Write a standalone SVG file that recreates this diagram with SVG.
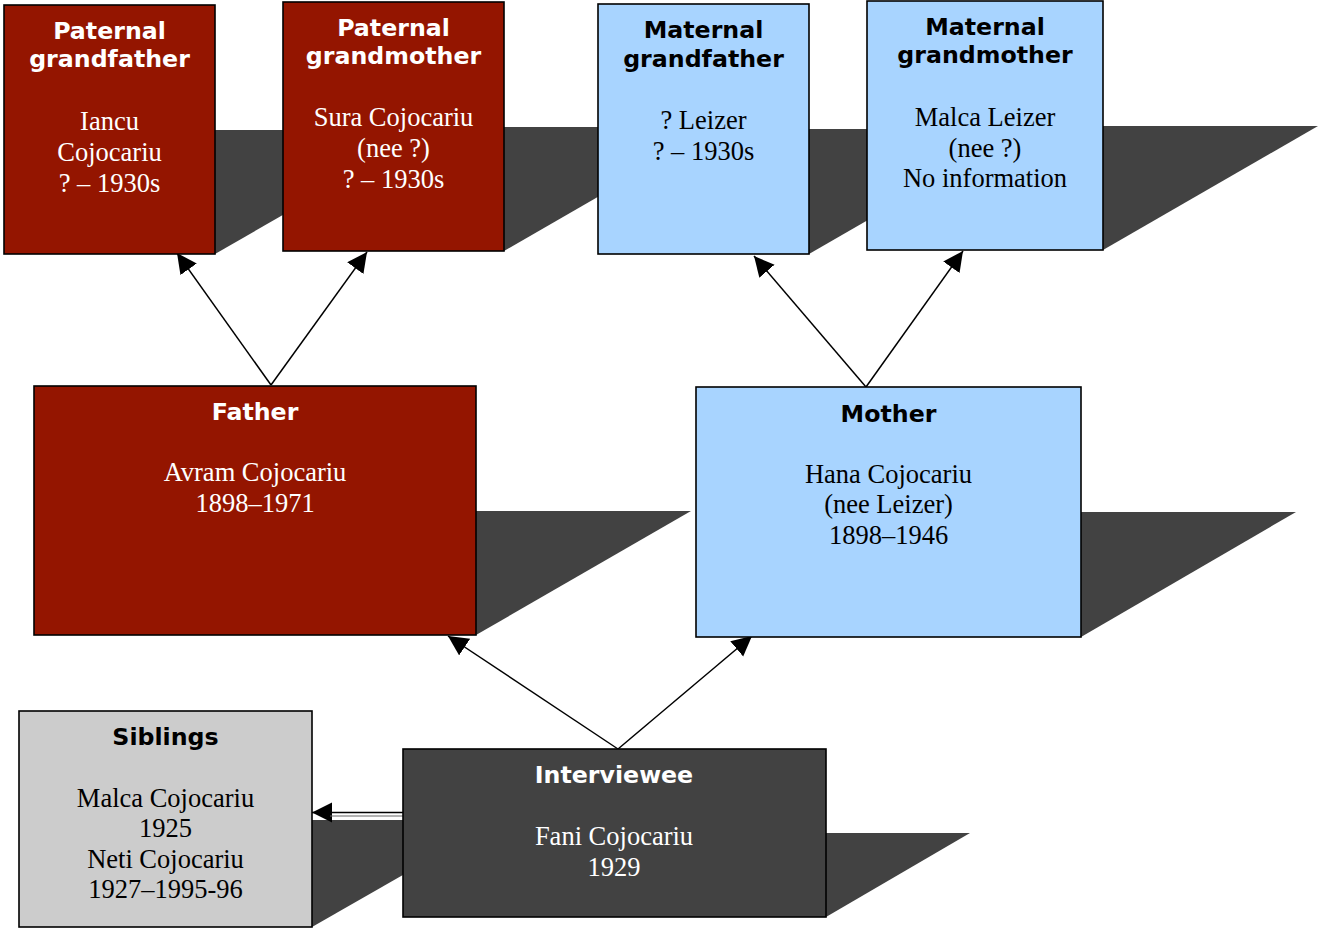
<svg xmlns="http://www.w3.org/2000/svg" width="1319" height="929" viewBox="0 0 1319 929">
<style>
.shadow{fill:#424242;stroke:none}
.box{stroke:#000;stroke-width:1.6}
.red{fill:#941500}
.blue{fill:#A8D4FF}
.gray{fill:#CCCCCC}
.dark{fill:#424242}
.t{font-family:"DejaVu Sans",Verdana,sans-serif;font-weight:bold;font-size:23.7px;text-anchor:middle}
.s{font-family:"Liberation Serif","Times New Roman",serif;font-size:26.5px;text-anchor:middle}
.w{fill:#fff}
.k{fill:#000}
.conn{stroke:#000;stroke-width:1.5;fill:none}
</style>
<defs>
<marker id="ah" markerUnits="userSpaceOnUse" markerWidth="22" markerHeight="22" refX="20" refY="10" orient="auto" viewBox="0 0 22 22">
<path d="M0,0 L20,10 L0,20 z" fill="#000"/>
</marker>
</defs>
<rect width="1319" height="929" fill="#fff"/>
<g id="shadows">
<polygon class="shadow" points="215,130 431,130 215,254"/>
<polygon class="shadow" points="504,127 719,127 504,251"/>
<polygon class="shadow" points="809,129 1026,129 809,254"/>
<polygon class="shadow" points="1103,126 1318,126 1103,250"/>
<polygon class="shadow" points="476,511 691,511 476,635"/>
<polygon class="shadow" points="1081,512 1296,512 1081,637"/>
<polygon class="shadow" points="826,833 970,833 826,917"/>
<polygon class="shadow" points="312,820 499,820 312,927"/>
</g>
<g id="connectors">
<line class="conn" x1="271" y1="385" x2="177" y2="253" marker-end="url(#ah)"/>
<line class="conn" x1="271" y1="385" x2="367" y2="252" marker-end="url(#ah)"/>
<line class="conn" x1="866" y1="387" x2="754" y2="256" marker-end="url(#ah)"/>
<line class="conn" x1="866" y1="387" x2="963" y2="251" marker-end="url(#ah)"/>
<line class="conn" x1="618" y1="749" x2="448" y2="636" marker-end="url(#ah)"/>
<line class="conn" x1="618" y1="749" x2="752" y2="636" marker-end="url(#ah)"/>
<line class="conn" x1="403" y1="812.5" x2="312" y2="812.5" marker-end="url(#ah)"/>
<line x1="330" y1="816" x2="403" y2="816" stroke="#666" stroke-width="1"/>
</g>
<g id="paternal-grandfather">
<rect class="box red" x="4" y="5" width="211" height="249"/>
<text class="t w" x="109.5" y="39">Paternal</text>
<text class="t w" x="109.5" y="67">grandfather</text>
<text class="s w" x="109.5" y="130">Iancu</text>
<text class="s w" x="109.5" y="161">Cojocariu</text>
<text class="s w" x="109.5" y="192">? – 1930s</text>
</g>
<g id="paternal-grandmother">
<rect class="box red" x="283" y="2" width="221" height="249"/>
<text class="t w" x="393.5" y="36">Paternal</text>
<text class="t w" x="393.5" y="64">grandmother</text>
<text class="s w" x="393.5" y="126">Sura Cojocariu</text>
<text class="s w" x="393.5" y="157">(nee ?)</text>
<text class="s w" x="393.5" y="188">? – 1930s</text>
</g>
<g id="maternal-grandfather">
<rect class="box blue" x="598" y="4" width="211" height="250"/>
<text class="t k" x="703.5" y="38">Maternal</text>
<text class="t k" x="703.5" y="67">grandfather</text>
<text class="s k" x="703.5" y="129">? Leizer</text>
<text class="s k" x="703.5" y="160">? – 1930s</text>
</g>
<g id="maternal-grandmother">
<rect class="box blue" x="867" y="1" width="236" height="249"/>
<text class="t k" x="985" y="35">Maternal</text>
<text class="t k" x="985" y="63">grandmother</text>
<text class="s k" x="985" y="126">Malca Leizer</text>
<text class="s k" x="985" y="157">(nee ?)</text>
<text class="s k" x="985" y="187">No information</text>
</g>
<g id="father">
<rect class="box red" x="34" y="386" width="442" height="249"/>
<text class="t w" x="255" y="420">Father</text>
<text class="s w" x="255" y="481">Avram Cojocariu</text>
<text class="s w" x="255" y="512">1898–1971</text>
</g>
<g id="mother">
<rect class="box blue" x="696" y="387" width="385" height="250"/>
<text class="t k" x="888.5" y="422">Mother</text>
<text class="s k" x="888.5" y="483">Hana Cojocariu</text>
<text class="s k" x="888.5" y="513">(nee Leizer)</text>
<text class="s k" x="888.5" y="544">1898–1946</text>
</g>
<g id="interviewee">
<rect class="box dark" x="403" y="749" width="423" height="168"/>
<text class="t w" x="614" y="783">Interviewee</text>
<text class="s w" x="614" y="845">Fani Cojocariu</text>
<text class="s w" x="614" y="876">1929</text>
</g>
<g id="siblings">
<rect class="box gray" x="19" y="711" width="293" height="216"/>
<text class="t k" x="165.5" y="745">Siblings</text>
<text class="s k" x="165.5" y="807">Malca Cojocariu</text>
<text class="s k" x="165.5" y="837">1925</text>
<text class="s k" x="165.5" y="868">Neti Cojocariu</text>
<text class="s k" x="165.5" y="898">1927–1995-96</text>
</g>
</svg>
